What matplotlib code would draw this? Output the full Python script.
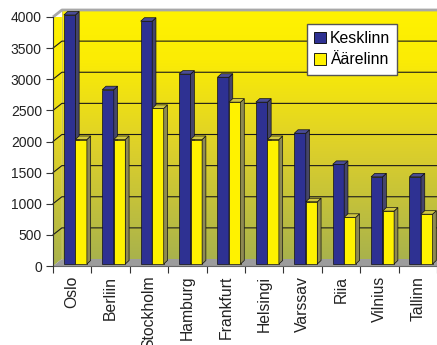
import numpy as np
import matplotlib
matplotlib.use('Agg')
import matplotlib.pyplot as plt
from matplotlib.patches import Polygon, Patch
from matplotlib.colors import LinearSegmentedColormap

plt.rcParams['font.family'] = ['Liberation Sans', 'DejaVu Sans']

cities = ['Oslo', 'Berliin', 'Stockholm', 'Hamburg', 'Frankfurt', 'Helsingi',
          'Varssav', 'Riia', 'Vilnius', 'Tallinn']
kesklinn = [4000, 2800, 3900, 3050, 3000, 2600, 2100, 1600, 1400, 1400]
aarelinn = [2000, 2000, 2500, 2000, 2600, 2000, 1000, 750, 850, 800]
yticks = list(range(0, 4001, 500))
series_names = ['Kesklinn', 'Äärelinn']

W, H = 437, 345
fig = plt.figure(figsize=(W / 100, H / 100), dpi=100)
cat_px = 38.8
ax = fig.add_axes([53 / W, (H - 266) / H, (W - 53) / W, (266 - 17) / H])
xmax = (W - 53) / cat_px
ppy = 249 / 4000.0


def dxu(px):
    return px / cat_px


def dyu(px):
    return px / ppy


DX, DY = dxu(9), dyu(7)

wall_cmap = LinearSegmentedColormap.from_list(
    'wall', [(0, '#A9B24C'), (0.45, '#DDD02A'), (0.8, '#FBEC05'), (1, '#FFF200')])
grad = np.linspace(0, 1, 256).reshape(-1, 1)

# back wall
ax.imshow(grad, cmap=wall_cmap, origin='lower', aspect='auto',
          extent=[DX, xmax + 1, DY, 4000 + DY], zorder=0, clip_on=False)
# side wall
im2 = ax.imshow(grad, cmap=wall_cmap, origin='lower', aspect='auto',
                extent=[0, DX, 0, 4000 + DY], zorder=0)
side_poly = Polygon([(0, 0), (0, 4000), (DX, 4000 + DY), (DX, DY)], transform=ax.transData)
im2.set_clip_path(side_poly)

# floor
ax.add_patch(Polygon([(0, 0), (xmax + 1, 0), (xmax + 1 + DX, DY), (DX, DY)],
                     facecolor='#9C9C9C', edgecolor='none', zorder=1, clip_on=False))

# gridlines
for v in yticks[1:-1]:
    ax.plot([0, DX, xmax + 1], [v, v + DY, v + DY], color='#1a1a1a', lw=0.8,
            zorder=1.5, clip_on=False)
ax.plot([0, DX, xmax + 1], [4000, 4000 + DY, 4000 + DY], color='#A8A8A8', lw=2,
        zorder=1.5, clip_on=False, solid_capstyle='butt')
ax.plot([DX, DX], [DY, 4000 + DY], color='#C8C060', lw=0.6, zorder=1.4, clip_on=False)

ax.set_xlim(0, xmax)
ax.set_ylim(0, 4000)

BY = dyu(2)
bdx, bdy = dxu(3.8), dyu(3.5)
bw = 0.30
styles = [
    dict(front='#2E3192', side='#45456A', top='#4A4C96'),
    dict(front='#FFF200', side='#8E8A52', top='#D2C840'),
]


def bar3d(x, h, st, z):
    ax.bar(x, h, width=bw, bottom=BY, align='edge', color=st['front'],
           edgecolor='#111111', lw=0.5, zorder=z, clip_on=False)
    ax.add_patch(Polygon([(x + bw, BY), (x + bw + bdx, BY + bdy),
                          (x + bw + bdx, BY + h + bdy), (x + bw, BY + h)],
                         facecolor=st['side'], edgecolor='#111111', lw=0.5,
                         zorder=z, clip_on=False))
    ax.add_patch(Polygon([(x, BY + h), (x + bdx, BY + h + bdy),
                          (x + bw + bdx, BY + h + bdy), (x + bw, BY + h)],
                         facecolor=st['top'], edgecolor='#111111', lw=0.5,
                         zorder=z, clip_on=False))


for i in range(len(cities)):
    bar3d(i + 0.283, kesklinn[i], styles[0], 3 + i * 0.01)
    bar3d(i + 0.283 + bw, aarelinn[i], styles[1], 3.005 + i * 0.01)

for s in ['top', 'right']:
    ax.spines[s].set_visible(False)
ax.spines['left'].set_bounds(0, 4000)
ax.spines['left'].set_color('#333333')
ax.spines['left'].set_linewidth(0.8)
ax.spines['bottom'].set_color('#666666')
ax.spines['bottom'].set_linewidth(0.8)
ax.spines['left'].set_zorder(6)

ax.set_yticks(yticks)
ax.set_yticklabels([str(v) for v in yticks], fontsize=10, color='#222222')
ax.tick_params(axis='y', length=5, width=0.8, color='#333333', pad=3)

ax.set_xticks([i + 0.5 for i in range(len(cities))])
ax.set_xticklabels(cities, rotation=90, fontsize=11.3, color='#222222')
ax.tick_params(axis='x', which='major', length=0, pad=7)
ax.set_xticks(list(range(0, len(cities) + 1)), minor=True)
ax.tick_params(axis='x', which='minor', length=5, width=0.8, color='#333333')

handles = [Patch(facecolor=styles[0]['front'], edgecolor='black', lw=0.6),
           Patch(facecolor=styles[1]['front'], edgecolor='black', lw=0.6)]
leg = ax.legend(handles, series_names, loc='upper left', bbox_to_anchor=(0.661, 0.972),
                fontsize=11.4, frameon=True, fancybox=False, framealpha=1,
                edgecolor='#555555', handlelength=0.75, handleheight=0.75,
                handletextpad=0.25, borderpad=0.45, labelspacing=0.4, borderaxespad=0)
leg.get_frame().set_linewidth(1.0)
leg.set_zorder(10)

fig.savefig('out.png', dpi=100, facecolor='white')
